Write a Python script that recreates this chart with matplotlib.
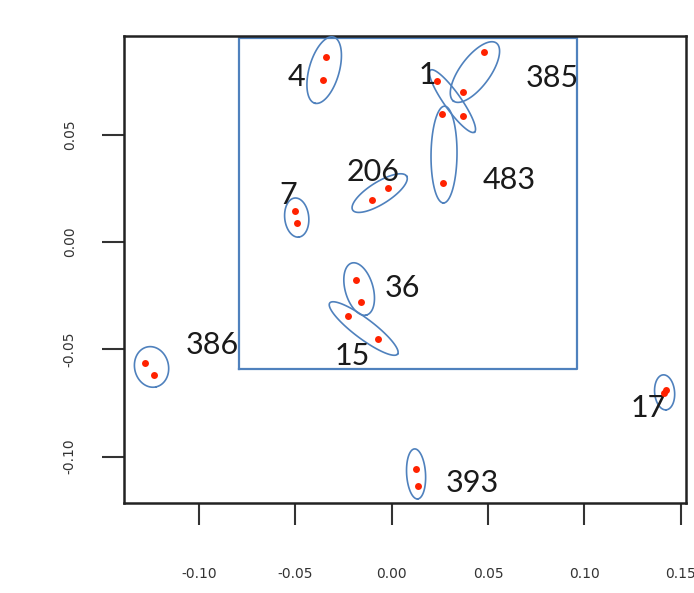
import numpy as np
import matplotlib.pyplot as plt

# cluster ids and the two member points of each
clusters = ['4', '385', '1', '483', '206', '7', '36', '15', '386', '17', '393']
pt_x = [(-0.0342, -0.0358), (0.0477, 0.0373), (0.0238, 0.0368), (0.0264, 0.0269),
        (-0.0104, -0.0021), (-0.0503, -0.0492), (-0.0187, -0.0161), (-0.0228, -0.0073),
        (-0.1280, -0.1233), (0.1415, 0.1425), (0.0124, 0.0135)]
pt_y = [(0.0862, 0.0755), (0.0885, 0.0699), (0.0750, 0.0587), (0.0596, 0.0275),
        (0.0196, 0.0252), (0.0144, 0.0088), (-0.0177, -0.0279), (-0.0345, -0.0452),
        (-0.0564, -0.0619), (-0.0703, -0.0689), (-0.1057, -0.1136)]

# ellipse around each cluster: ends of the long axis, and the short axis length
ell_a = [(-0.0301, 0.0955), (0.0544, 0.0927), (0.0202, 0.0801), (0.0275, 0.0633),
         (-0.0202, 0.0149), (-0.0503, 0.0205), (-0.0207, -0.0098), (-0.0321, -0.0284),
         (-0.1269, -0.0489), (0.1409, -0.0619), (0.0119, -0.0964)]
ell_b = [(-0.0399, 0.0647), (0.0321, 0.0657), (0.0430, 0.0512), (0.0269, 0.0182),
         (0.0078, 0.0307), (-0.0482, 0.0023), (-0.0130, -0.0340), (0.0031, -0.0522),
         (-0.1223, -0.0675), (0.1425, -0.0782), (0.0135, -0.1197)]
ell_minor = [0.0140, 0.0140, 0.0079, 0.0121, 0.0102, 0.0112, 0.0130, 0.0093, 0.0158, 0.0093, 0.0088]

# zoom box drawn over the plot
box_x = (-0.0793, 0.0964)
box_y = (-0.0592, 0.0950)

xticks = [-0.10, -0.05, 0.00, 0.05, 0.10, 0.15]
yticks = [-0.10, -0.05, 0.00, 0.05]

BLUE = '#4f81bd'

# where the id labels sit
label_xy = [(-0.0492, 0.0769), (0.0834, 0.0764), (0.0187, 0.0778), (0.0611, 0.0289),
            (-0.0098, 0.0326), (-0.0534, 0.0219), (0.0057, -0.0214), (-0.0202, -0.0531),
            (-0.0933, -0.0480), (0.1332, -0.0773), (0.0420, -0.1123)]


def draw_ellipse(ax, a, b, minor):
    """ ellipse with long axis a-b, built in screen space so it is not skewed """
    tr = ax.transData
    pa = tr.transform(a)
    pb = tr.transform(b)
    py0 = tr.transform((0, 0))[1]
    py1 = tr.transform((0, minor))[1]
    half_minor = abs(py1 - py0) / 2
    c = (pa + pb) / 2
    u = (pb - pa) / 2
    half_major = np.hypot(*u)
    u = u / half_major
    v = np.array([-u[1], u[0]])
    t = np.linspace(0, 2 * np.pi, 120)
    pts = c + np.outer(np.cos(t) * half_major, u) + np.outer(np.sin(t) * half_minor, v)
    dat = tr.inverted().transform(pts)
    ax.plot(dat[:, 0], dat[:, 1], color=BLUE, lw=1.2, zorder=3)


def main():
    fig = plt.figure(figsize=(6.94, 5.93), dpi=100)
    ax = fig.add_axes([124 / 694, 1 - 503 / 593, (686 - 124) / 694, (503 - 36) / 593])
    ax.set_xlim(-0.1389, 0.1528)
    ax.set_ylim(-0.1216, 0.0960)

    for s in ax.spines.values():
        s.set_linewidth(1.8)
        s.set_color('#222222')

    ax.set_xticks(xticks)
    ax.set_xticklabels(['{:.2f}'.format(t) for t in xticks])
    ax.set_yticks(yticks)
    ax.set_yticklabels(['{:.2f}'.format(t) for t in yticks], rotation=90, va='center')
    ax.tick_params(axis='both', length=16, width=1.5, color='#333333',
                   labelsize=10, labelcolor='#333333')
    ax.tick_params(axis='x', pad=30)
    ax.tick_params(axis='y', pad=18)

    ax.plot([box_x[0], box_x[1], box_x[1], box_x[0], box_x[0]],
            [box_y[0], box_y[0], box_y[1], box_y[1], box_y[0]],
            color=BLUE, lw=1.6, zorder=2)

    for i in range(len(clusters)):
        draw_ellipse(ax, ell_a[i], ell_b[i], ell_minor[i])
        ax.plot(pt_x[i], pt_y[i], 'o', color='#ff2200', ms=5, mec='none', zorder=5)
        lx, ly = label_xy[i]
        ax.text(lx, ly, clusters[i], fontsize=22, family='Lato', color='#1a1a1a',
                ha='center', va='center', zorder=4)

    fig.savefig('out.png', dpi=100)


if __name__ == '__main__':
    main()
